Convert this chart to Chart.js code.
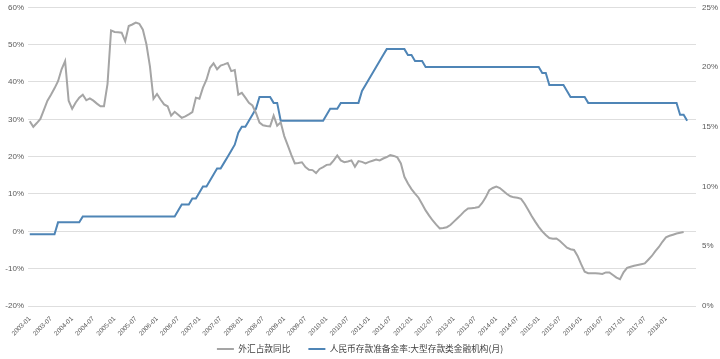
<!DOCTYPE html>
<html><head><meta charset="utf-8">
<script src="https://cdn.jsdelivr.net/npm/chart.js@4"></script>
<style>html,body{margin:0;padding:0;background:#fff}</style>
</head><body>
<canvas id="c" width="720" height="359"></canvas>
<script>
// monthly categories 2003-01 .. 2018-09
const categories = [];
for (let y = 2003; y <= 2018; y++) {
  for (let m = 1; m <= 12; m++) {
    if (y === 2018 && m > 9) break;
    categories.push(y + '-' + String(m).padStart(2, '0'));
  }
}
const lastTickLabel = '2018-01';
const seriesNames = ['外汇占款同比', '人民币存款准备金率:大型存款类金融机构(月)'];
const leftTicks = [-20, -10, 0, 10, 20, 30, 40, 50, 60];
const rightTicks = [0, 5, 10, 15, 20, 25];

const fxYoY = [
29.5,28.0,29.0,30.1,32.5,35.0,36.6,38.3,40.2,43.4,45.6,35.0,
32.8,34.5,35.8,36.6,35.1,35.6,35.0,34.2,33.5,33.5,39.5,53.8,
53.4,53.3,53.2,50.9,55.0,55.4,55.9,55.6,54.0,50.1,44.2,35.5,
36.8,35.3,34.0,33.5,31.0,32.0,31.2,30.4,30.8,31.3,31.9,35.8,
35.5,38.5,40.6,43.8,45.0,43.4,44.4,44.7,45.1,42.9,43.2,36.6,
37.1,35.8,34.4,33.7,31.7,29.1,28.4,28.2,28.1,31.0,28.3,29.2,
25.5,23.0,20.5,18.2,18.3,18.5,17.2,16.5,16.4,15.6,16.7,17.2,
17.8,17.9,19.0,20.3,19.0,18.5,18.7,19.0,17.3,18.8,18.6,18.2,
18.6,18.9,19.2,19.0,19.5,19.9,20.4,20.2,19.8,18.2,14.6,12.8,
11.3,10.1,9.0,7.3,5.6,4.2,2.9,1.8,0.8,0.9,1.1,1.7,
2.6,3.5,4.4,5.4,6.1,6.2,6.3,6.5,7.6,9.1,11.0,11.6,
12.0,11.6,10.8,10.0,9.4,9.1,9.0,8.7,7.4,5.8,4.1,2.6,
1.2,0.0,-1.0,-1.8,-2.0,-1.9,-2.6,-3.5,-4.4,-4.8,-5.0,-6.6,
-8.8,-10.8,-11.2,-11.2,-11.2,-11.3,-11.4,-11.0,-11.0,-11.7,-12.4,-12.8,
-11.0,-9.8,-9.5,-9.2,-9.0,-8.8,-8.6,-7.6,-6.6,-5.3,-4.2,-2.8,
-1.6,-1.2,-0.9,-0.6,-0.4,-0.2
];

const rrrLarge = [
6,6,6,6,6,6,6,6,7,7,7,7,
7,7,7,7.5,7.5,7.5,7.5,7.5,7.5,7.5,7.5,7.5,
7.5,7.5,7.5,7.5,7.5,7.5,7.5,7.5,7.5,7.5,7.5,7.5,
7.5,7.5,7.5,7.5,7.5,7.5,8,8.5,8.5,8.5,9,9,
9.5,10,10,10.5,11,11.5,11.5,12,12.5,13,13.5,14.5,
15,15,15.5,16,16.5,17.5,17.5,17.5,17.5,17,17,15.5,
15.5,15.5,15.5,15.5,15.5,15.5,15.5,15.5,15.5,15.5,15.5,15.5,
16,16.5,16.5,16.5,17,17,17,17,17,17,18,18.5,
19,19.5,20,20.5,21,21.5,21.5,21.5,21.5,21.5,21.5,21,
21,20.5,20.5,20.5,20,20,20,20,20,20,20,20,
20,20,20,20,20,20,20,20,20,20,20,20,
20,20,20,20,20,20,20,20,20,20,20,20,
20,19.5,19.5,18.5,18.5,18.5,18.5,18.5,18,17.5,17.5,17.5,
17.5,17.5,17,17,17,17,17,17,17,17,17,17,
17,17,17,17,17,17,17,17,17,17,17,17,
17,17,17,17,16,16,15.5
];

const tickFont = {family: 'Liberation Sans, Arial, sans-serif', size: 8};
const xTickFont = {family: 'Liberation Sans, Arial, sans-serif', size: 6.5};
const tickColor = '#595959';
const lastTickIndex = categories.indexOf(lastTickLabel);

// let the legend's drawing area start higher so its row sits just below the month labels
const legendShift = {
  id: 'legendShift',
  afterLayout(chart) {
    const lg = chart.legend;
    if (lg) { lg.top -= 11.3; }
  }
};
const noPad = s => { s.paddingTop = 0; s.paddingBottom = 0; s.paddingLeft = 0; s.paddingRight = 0; };

new Chart(document.getElementById('c'), {
  type: 'line',
  data: {
    labels: categories,
    datasets: [
      {label: seriesNames[0], data: fxYoY, borderColor: '#a5a5a5', backgroundColor: '#a5a5a5',
       borderWidth: 2, pointRadius: 0, tension: 0, yAxisID: 'y'},
      {label: seriesNames[1], data: rrrLarge, borderColor: '#4f85b6', backgroundColor: '#4f85b6',
       borderWidth: 2, pointRadius: 0, tension: 0, yAxisID: 'y1'}
    ]
  },
  plugins: [legendShift],
  options: {
    responsive: false,
    animation: false,
    devicePixelRatio: 1,
    layout: {padding: {top: 7.3, left: 0, right: 0, bottom: 0}},
    plugins: {
      tooltip: {enabled: false},
      legend: {
        position: 'bottom',
        maxHeight: 21,
        labels: {
          boxWidth: 17, boxHeight: 2, padding: 18, color: '#404040',
          font: {family: 'Noto Sans CJK SC', size: 8.7},
          generateLabels(chart) {
            const items = Chart.defaults.plugins.legend.labels.generateLabels(chart);
            items.forEach(it => { it.lineWidth = 0; it.fillStyle = it.strokeStyle; });
            return items;
          }
        }
      }
    },
    scales: {
      x: {
        type: 'category', offset: true,
        grid: {display: false, drawTicks: false}, border: {display: false},
        ticks: {
          autoSkip: false, maxRotation: 45, minRotation: 45, padding: 9,
          font: xTickFont, color: tickColor,
          callback: (v, i) => (i % 6 === 0 && i <= lastTickIndex ? categories[i] : '')
        },
        afterFit: s => { s.height = 32; noPad(s); }
      },
      y: {
        position: 'left', min: -20, max: 60,
        afterBuildTicks: s => { s.ticks = leftTicks.map(v => ({value: v})); },
        ticks: {font: tickFont, color: tickColor, padding: 4, callback: v => v + '%'},
        grid: {color: '#dedede', drawTicks: false}, border: {display: false},
        afterFit: s => { s.width = 28; noPad(s); }
      },
      y1: {
        position: 'right', min: 0, max: 25,
        afterBuildTicks: s => { s.ticks = rightTicks.map(v => ({value: v})); },
        ticks: {font: tickFont, color: tickColor, padding: 6, callback: v => v + '%'},
        grid: {display: false, drawTicks: false}, border: {display: false},
        afterFit: s => { s.width = 24; noPad(s); }
      }
    }
  }
});
</script>
</body></html>
